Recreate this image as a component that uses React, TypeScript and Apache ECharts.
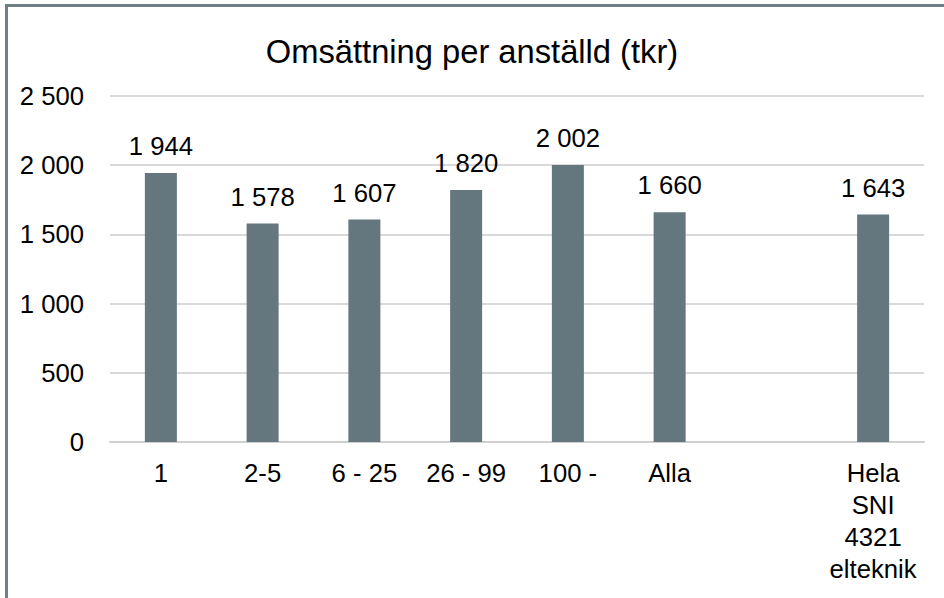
import React, { useEffect, useRef } from "react";
import * as echarts from "echarts";

const categories = ["1", "2-5", "6 - 25", "26 - 99", "100 -", "Alla", "", "Hela\nSNI\n4321\nelteknik"];
const values: (number | null)[] = [1944, 1578, 1607, 1820, 2002, 1660, null, 1643];
const titleText = "Omsättning per anställd (tkr)";
const yMax = 2500;
const yInterval = 500;

const FONT = "'Liberation Sans', Arial, sans-serif";

function fmt(v: number): string {
  return String(Math.round(v)).replace(/\B(?=(\d{3})+(?!\d))/g, " ");
}

export default function App() {
  const ref = useRef<HTMLDivElement>(null);
  useEffect(() => {
    if (!ref.current) return;
    const chart = echarts.init(ref.current, null, { renderer: "svg" });
    chart.setOption({
      animation: false,
      backgroundColor: "#ffffff",
      textStyle: { fontFamily: FONT },
      title: {
        text: titleText,
        left: "center",
        top: 29,
        textStyle: { fontFamily: FONT, fontSize: 32.7, fontWeight: "normal", color: "#000000", lineHeight: 35 },
      },
      graphic: [
        {
          type: "rect",
          shape: { x: 6.5, y: 5.5, width: 1200, height: 1200 },
          style: { fill: "none", stroke: "#6f7f87", lineWidth: 3 },
          silent: true,
        },
      ],
      grid: { left: 110, right: 20, top: 96, bottom: 156, containLabel: false },
      xAxis: {
        type: "category",
        data: categories,
        axisLine: { show: true, lineStyle: { color: "#cfcfcf", width: 2 } },
        axisTick: { show: false },
        axisLabel: {
          interval: 0,
          margin: 15,
          fontFamily: FONT,
          fontSize: 25.7,
          lineHeight: 32,
          color: "#000000",
        },
      },
      yAxis: {
        type: "value",
        min: 0,
        max: yMax,
        interval: yInterval,
        axisLine: { show: false },
        axisTick: { show: false },
        splitLine: { lineStyle: { color: "#d9d9d9", width: 2 } },
        axisLabel: {
          margin: 26,
          fontFamily: FONT,
          fontSize: 25.7,
          color: "#000000",
          formatter: (v: number) => fmt(v),
        },
      },
      series: [
        {
          type: "bar",
          data: values,
          barWidth: 32,
          itemStyle: { color: "#64767e" },
          label: {
            show: true,
            position: "top",
            distance: 14,
            fontFamily: FONT,
            fontSize: 25.7,
            color: "#000000",
            formatter: (p: any) => (p.value == null ? "" : fmt(p.value)),
          },
        },
      ],
    });
    return () => chart.dispose();
  }, []);
  return (
    <div
      ref={ref}
      style={{ position: "absolute", left: 0, top: 0, width: 944, height: 598 }}
    />
  );
}
